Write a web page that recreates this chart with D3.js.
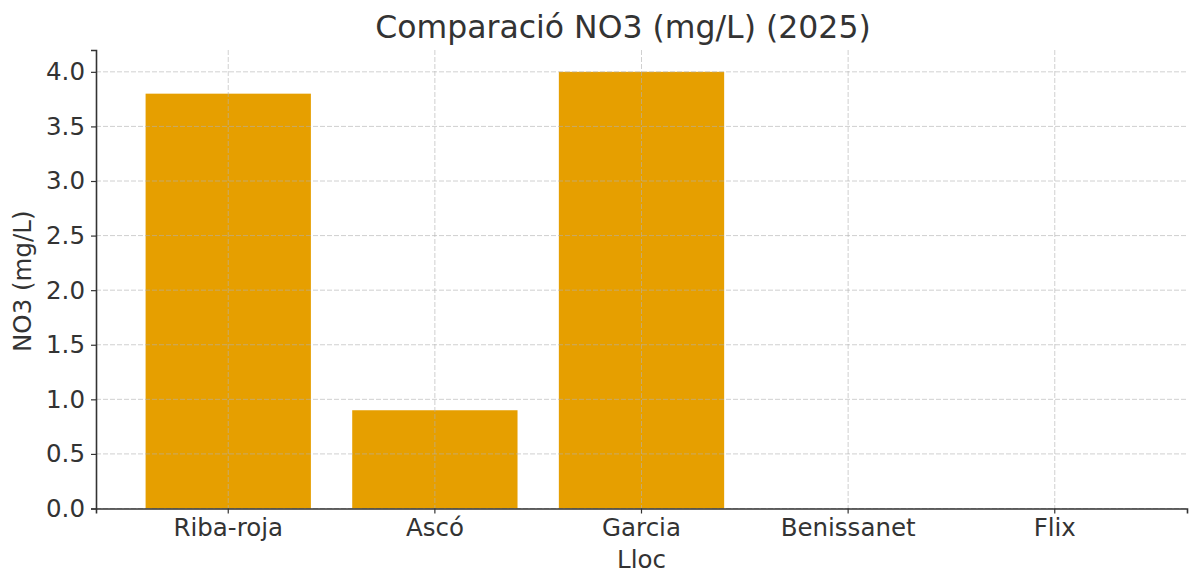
<!DOCTYPE html>
<html>
<head>
<meta charset="utf-8">
<script src="https://cdn.jsdelivr.net/npm/d3@7"></script>
<style>
  html, body { margin: 0; padding: 0; background: #fff; }
  text { font-family: "DejaVu Sans", sans-serif; fill: #333; }
</style>
</head>
<body>
<svg id="chart" width="1191" height="579"></svg>
<script>
const categories = ["Riba-roja", "Ascó", "Garcia", "Benissanet", "Flix"];
const values = [3.8, 0.9, 4.0, 0, 0];
const yTicks = [0, 0.5, 1.0, 1.5, 2.0, 2.5, 3.0, 3.5, 4.0];
const title = "Comparació NO3 (mg/L) (2025)";
const xLabel = "Lloc";
const yLabel = "NO3 (mg/L)";

const svg = d3.select("#chart");
const mLeft = 96, mRight = 1187, mTop = 50, mBottom = 508.5;

const x = d3.scaleBand().domain(categories).range([mLeft, mRight])
  .paddingInner(0.2).paddingOuter(0.24);
const y = d3.scaleLinear().domain([0, 4.2]).range([mBottom, mTop]);

// bars
svg.append("g").selectAll("rect").data(categories).join("rect")
  .attr("x", d => x(d))
  .attr("width", x.bandwidth())
  .attr("y", (d, i) => y(values[i]))
  .attr("height", (d, i) => mBottom - y(values[i]))
  .attr("fill", "#E69F00");

// grid (on top, translucent)
const grid = svg.append("g").attr("stroke", "#b0b0b0").attr("stroke-opacity", 0.6)
  .attr("stroke-dasharray", "5,2").attr("stroke-width", 1);
grid.selectAll("line.h").data(yTicks).join("line").attr("class", "h")
  .attr("x1", mLeft).attr("x2", mRight)
  .attr("y1", d => y(d)).attr("y2", d => y(d));
grid.selectAll("line.v").data(categories).join("line").attr("class", "v")
  .attr("x1", d => x(d) + x.bandwidth() / 2).attr("x2", d => x(d) + x.bandwidth() / 2)
  .attr("y1", mTop).attr("y2", mBottom);

// axes
const xAxis = svg.append("g").attr("transform", `translate(0,${mBottom})`)
  .call(d3.axisBottom(x).tickSizeOuter(0).tickSize(5).tickPadding(5));
const yAxis = svg.append("g").attr("transform", `translate(${mLeft},0)`)
  .call(d3.axisLeft(y).tickValues(yTicks).tickFormat(d3.format(".1f")).tickSizeOuter(0).tickSize(5).tickPadding(6));
[xAxis, yAxis].forEach(g => {
  g.select(".domain").attr("stroke", "#333").attr("stroke-width", 1.6);
  g.selectAll(".tick line").attr("stroke", "#333").attr("stroke-width", 1.2);
  g.selectAll(".tick text").style("font-size", "24.5px").attr("fill", "#333")
    .style("font-family", "DejaVu Sans, sans-serif");
});

// labels
svg.append("text").attr("x", 623).attr("y", 38)
  .attr("text-anchor", "middle").style("font-size", "31.5px").text(title);
svg.append("text").attr("x", (mLeft + mRight) / 2).attr("y", 568)
  .attr("text-anchor", "middle").style("font-size", "24.5px").text(xLabel);
svg.append("text").attr("transform", `translate(31,${(mTop + mBottom) / 2 + 2}) rotate(-90)`)
  .attr("text-anchor", "middle").style("font-size", "24.5px").text(yLabel);
</script>
</body>
</html>
